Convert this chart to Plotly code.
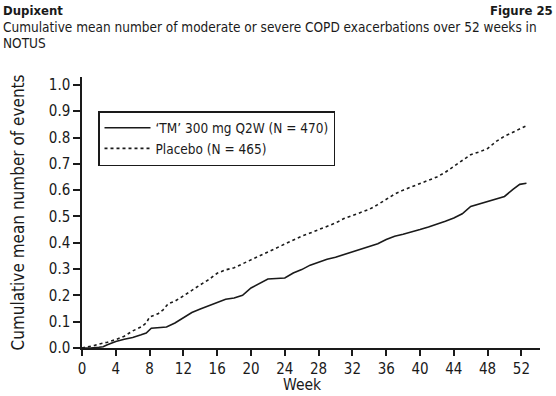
import plotly.graph_objects as go

tm_weeks = [0, 1, 2, 2.5, 3, 4, 5, 6, 7, 7.6, 8.2, 9, 10, 11, 11.6, 12, 13, 14, 15, 16, 17, 18, 19,
            20, 21, 22, 23, 24, 25, 26, 27, 28, 29, 30, 31, 32, 33, 34, 35, 36, 37, 38, 39, 40,
            41, 42, 43, 44, 45, 46, 47, 48, 49, 50, 51, 51.8, 52.6]
tm_values = [0, 0, 0.003, 0.005, 0.012, 0.025, 0.033, 0.04, 0.05, 0.057, 0.075, 0.078, 0.08, 0.095,
             0.107, 0.115, 0.135, 0.148, 0.16, 0.175, 0.185, 0.19, 0.2, 0.228, 0.245, 0.262, 0.264,
             0.266, 0.285, 0.298, 0.315, 0.327, 0.337, 0.345, 0.355, 0.365, 0.377, 0.386, 0.396,
             0.412, 0.425, 0.432, 0.44, 0.45, 0.46, 0.47, 0.482, 0.494, 0.51, 0.538, 0.548, 0.557,
             0.566, 0.576, 0.603, 0.622, 0.626]

pl_weeks = [0, 1, 1.5, 2, 3, 4, 4.5, 5, 6, 7, 7.6, 8, 9, 9.6, 10.2, 11, 12, 13, 14, 15, 16, 17, 18,
            19, 20, 21, 22, 23, 24, 25, 26, 27, 28, 29, 30, 31, 32, 33, 34, 35, 36, 37, 38, 39, 40,
            41, 42, 43, 44, 45, 46, 47, 48, 49, 50, 51, 52, 52.6]
pl_values = [0, 0.005, 0.01, 0.015, 0.022, 0.032, 0.038, 0.045, 0.065, 0.08, 0.095, 0.118, 0.13,
             0.145, 0.168, 0.178, 0.198, 0.22, 0.24, 0.26, 0.284, 0.297, 0.305, 0.32, 0.335, 0.35,
             0.368, 0.38, 0.395, 0.41, 0.425, 0.437, 0.45, 0.462, 0.475, 0.492, 0.503, 0.515, 0.527,
             0.545, 0.565, 0.585, 0.6, 0.613, 0.625, 0.638, 0.65, 0.668, 0.69, 0.712, 0.735, 0.745,
             0.758, 0.785, 0.805, 0.82, 0.835, 0.845]

x_ticks = list(range(0, 53, 4))
y_ticks = [round(i * 0.1, 1) for i in range(11)]
y_tick_labels = [f"{v:.1f}" for v in y_ticks]

FONT = "DejaVu Sans Condensed, Liberation Sans Narrow, sans-serif"
INK = "#1a1a1a"

W, H = 556, 396
L, R, T, B = 82, 16, 77, 48
pw, ph = W - L - R, H - T - B

fig = go.Figure()
fig.add_trace(go.Scatter(x=tm_weeks, y=tm_values, mode="lines",
                         name="\u2018TM\u2019 300 mg Q2W (N = 470)",
                         line=dict(color=INK, width=1.6)))
fig.add_trace(go.Scatter(x=pl_weeks, y=pl_values, mode="lines",
                         name="Placebo (N = 465)",
                         line=dict(color=INK, width=1.6, dash="3px,3px")))


def px_x(x):
    return (x - L) / pw


def px_y(y):
    return (H - B - y) / ph


annotations = [
    dict(text="<b>Dupixent</b>", x=px_x(1), y=px_y(10), xanchor="left", size=13),
    dict(text="<b>Figure 25</b>", x=px_x(555), y=px_y(10), xanchor="right", size=13),
    dict(text="Cumulative mean number of moderate or severe COPD exacerbations over 52 weeks in",
         x=px_x(1), y=px_y(27), xanchor="left", size=13.5),
    dict(text="NOTUS", x=px_x(1), y=px_y(43), xanchor="left", size=13.5),
    dict(text="Week", x=px_x(302), y=px_y(385), xanchor="center", size=15.5),
    dict(text="Cumulative mean number of events", x=px_x(17), y=0.5, xanchor="center",
         size=17, angle=-90),
]
anns = []
for a in annotations:
    anns.append(dict(text=a["text"], x=a["x"], y=a["y"], xref="paper", yref="paper",
                     xanchor=a["xanchor"], yanchor="middle", showarrow=False,
                     textangle=a.get("angle", 0),
                     font=dict(family=FONT, size=a["size"], color=INK)))

fig.update_layout(
    width=W, height=H,
    margin=dict(l=L, r=R, t=T, b=B),
    paper_bgcolor="white", plot_bgcolor="white",
    font=dict(family=FONT, size=15, color=INK),
    showlegend=True,
    legend=dict(x=px_x(98), y=px_y(111), xanchor="left", yanchor="top",
                bordercolor=INK, borderwidth=1.5, bgcolor="white",
                font=dict(family=FONT, size=13.5, color=INK),
                tracegroupgap=0, itemwidth=46),
    xaxis=dict(range=[0, 54.2], tickvals=x_ticks, ticks="outside", ticklen=6, tickwidth=1.5,
               tickcolor=INK, showline=True, linecolor=INK, linewidth=1.5, showgrid=False,
               zeroline=False, tickfont=dict(size=15)),
    yaxis=dict(range=[0, 1.03], tickvals=y_ticks, ticktext=y_tick_labels, ticks="outside",
               ticklen=7, tickwidth=1.5, tickcolor=INK, showline=True, linecolor=INK,
               linewidth=1.5, showgrid=False, zeroline=False, tickfont=dict(size=15)),
    annotations=anns,
)

fig.write_html("out.html", config={"displayModeBar": False},
               post_script="document.body.style.margin='0';document.body.style.overflow='hidden';")
